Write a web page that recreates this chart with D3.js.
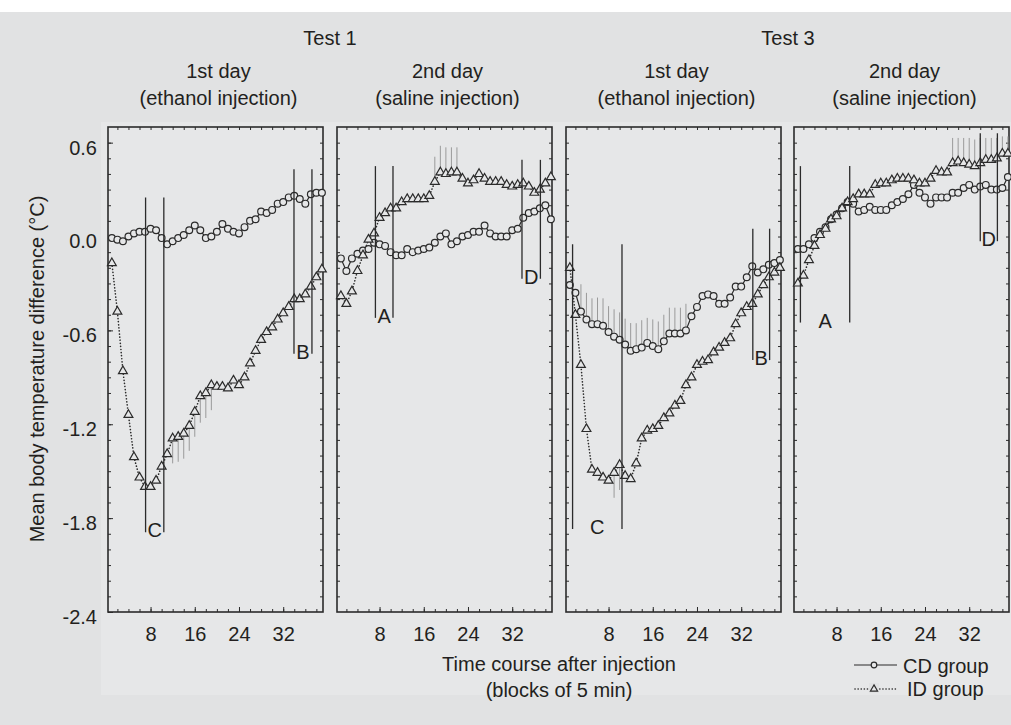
<!DOCTYPE html>
<html>
<head>
<meta charset="utf-8">
<script src="https://cdn.jsdelivr.net/npm/d3@7"></script>
<style>
body { margin: 0; background: #fff; }
svg text { font-family: "Liberation Sans", Arial, Helvetica, sans-serif; fill: #231f20; }
</style>
</head>
<body>
<svg id="chart" width="1011" height="725"></svg>
<script>
// blocks of 5 min after injection
var blocks = d3.range(1, 40);

// Test 1, 1st day (ethanol)
var cd1 = [-0.01,-0.02,-0.03,0.00,0.02,0.03,0.03,0.05,0.04,-0.01,-0.05,-0.03,-0.01,0.01,0.04,0.07,0.04,-0.01,0.00,0.03,0.08,0.05,0.03,0.02,0.06,0.10,0.11,0.16,0.15,0.17,0.21,0.22,0.25,0.26,0.24,0.21,0.27,0.28,0.28];
var id1 = [-0.17,-0.48,-0.86,-1.14,-1.41,-1.54,-1.60,-1.60,-1.56,-1.47,-1.39,-1.29,-1.28,-1.26,-1.21,-1.12,-1.02,-1.00,-0.95,-0.96,-0.96,-0.97,-0.92,-0.95,-0.90,-0.81,-0.73,-0.66,-0.61,-0.58,-0.53,-0.49,-0.45,-0.40,-0.40,-0.37,-0.32,-0.26,-0.21];
// Test 1, 2nd day (saline)
var cd2 = [-0.14,-0.22,-0.14,-0.11,-0.09,-0.08,-0.04,-0.05,-0.06,-0.10,-0.12,-0.12,-0.08,-0.10,-0.09,-0.08,-0.07,-0.04,0.00,0.02,-0.05,-0.03,0.00,0.01,0.03,0.03,0.07,0.02,0.00,0.00,0.00,0.04,0.05,0.12,0.15,0.16,0.18,0.20,0.11];
var id2 = [-0.38,-0.43,-0.35,-0.22,-0.12,-0.02,0.02,0.12,0.15,0.18,0.18,0.22,0.24,0.24,0.24,0.24,0.26,0.35,0.41,0.40,0.41,0.41,0.37,0.34,0.36,0.40,0.37,0.35,0.35,0.35,0.33,0.32,0.33,0.34,0.32,0.28,0.30,0.34,0.38];
// Test 3, 1st day (ethanol)
var cd3 = [-0.31,-0.36,-0.48,-0.53,-0.56,-0.56,-0.57,-0.61,-0.64,-0.66,-0.69,-0.73,-0.72,-0.71,-0.68,-0.70,-0.72,-0.67,-0.62,-0.62,-0.62,-0.60,-0.51,-0.45,-0.38,-0.37,-0.38,-0.43,-0.43,-0.39,-0.32,-0.32,-0.26,-0.19,-0.23,-0.21,-0.18,-0.17,-0.15];
var id3 = [-0.20,-0.50,-0.82,-1.23,-1.49,-1.51,-1.54,-1.56,-1.51,-1.46,-1.53,-1.55,-1.45,-1.29,-1.24,-1.23,-1.21,-1.16,-1.13,-1.08,-1.05,-0.95,-0.90,-0.82,-0.80,-0.79,-0.74,-0.71,-0.68,-0.65,-0.56,-0.49,-0.45,-0.43,-0.37,-0.31,-0.26,-0.23,-0.20];
// Test 3, 2nd day (saline)
var cd4 = [-0.08,-0.08,-0.05,-0.01,0.03,0.06,0.11,0.14,0.18,0.22,0.21,0.16,0.17,0.19,0.17,0.17,0.17,0.20,0.22,0.24,0.27,0.33,0.28,0.25,0.21,0.25,0.25,0.25,0.28,0.28,0.31,0.33,0.30,0.32,0.33,0.30,0.30,0.31,0.38];
var id4 = [-0.30,-0.25,-0.15,-0.06,0.01,0.05,0.11,0.13,0.18,0.22,0.24,0.27,0.27,0.27,0.33,0.34,0.34,0.36,0.37,0.37,0.37,0.36,0.34,0.34,0.37,0.42,0.41,0.41,0.47,0.48,0.47,0.46,0.45,0.47,0.49,0.49,0.50,0.53,0.53];

// SEM bars that show: [block, signed length]
var id1Err = [[12,-0.16],[13,-0.16],[14,-0.16],[15,-0.16],[16,-0.16],[17,-0.17],[18,-0.16],[19,-0.16]];
var id2Err = [[18,0.16],[19,0.17],[20,0.17],[21,0.16],[22,0.16]];
var cd3Err = [[3,0.175],[4,0.17],[5,0.165],[6,0.17],[7,0.175],[8,0.165],[9,0.175],[10,0.175],[11,0.165],[12,0.177],[13,0.166],[14,0.175],[15,0.16],[16,0.17],[17,0.177],[18,0.17],[19,0.165],[20,0.165],[21,0.165],[22,0.17]];
var id3Err = [[9,-0.16],[10,-0.16]];
var id4Err = [[29,0.16],[30,0.15],[31,0.16],[32,0.17],[33,0.17],[34,0.16],[35,0.14],[36,0.14],[37,0.13],[38,0.11],[39,0.11]];

var testTitles = ["Test 1", "Test 3"];
var dayTitles = [["1st day", "(ethanol injection)"], ["2nd day", "(saline injection)"], ["1st day", "(ethanol injection)"], ["2nd day", "(saline injection)"]];
var xTickLabels = [8, 16, 24, 32];
var yTickLabels = [-2.4, -1.8, -1.2, -0.6, 0.0, 0.6];

// comparison intervals: panel, letter, block range, value range
var refLines = [
  {panel: 0, label: "C", t: [7.1, 10.4], top: 0.25, bottom: -1.89},
  {panel: 0, label: "B", t: [33.95, 37.2], top: 0.43, bottom: -0.75},
  {panel: 1, label: "A", t: [7.25, 10.43], top: 0.45, bottom: -0.52},
  {panel: 1, label: "D", t: [33.77, 37.1], top: 0.49, bottom: -0.27},
  {panel: 2, label: "C", t: [1.49, 10.43], top: -0.05, bottom: -1.87},
  {panel: 2, label: "B", t: [34.1, 37.14], top: 0.05, bottom: -0.79},
  {panel: 3, label: "A", t: [1.46, 10.38], top: 0.45, bottom: -0.55},
  {panel: 3, label: "D", t: [34.0, 37.1], top: 0.66, bottom: -0.03}
];

var panels = [
  {cd: cd1, id: id1, cdErr: [], idErr: id1Err},
  {cd: cd2, id: id2, cdErr: [], idErr: id2Err},
  {cd: cd3, id: id3, cdErr: cd3Err, idErr: id3Err},
  {cd: cd4, id: id4, cdErr: [], idErr: id4Err}
];

var panelLeft = [108, 337, 566, 794],
  panelW = 215,
  plotTop = 127,
  plotBottom = 612,
  ink = "#2b2b2b",
  bg = "#e6e7e8";

var svg = d3.select("#chart");

svg.append("rect").attr("x", 0).attr("y", 12).attr("width", 1011).attr("height", 713).attr("fill", "#e1e2e3");
svg.append("rect").attr("x", 101).attr("y", 122).attr("width", 910).attr("height", 573).attr("fill", bg);

var x = d3.scaleLinear().domain([0.3, 39.2]).range([0, panelW]);
var y = d3.scaleLinear().domain([-2.4, 0.7]).range([plotBottom, plotTop]);

var minorX = d3.range(2, 39, 2);
var minorY = d3.range(-23, 7).map(function(d){ return d / 10; });

var cdLine = d3.line().x(function(d, i){ return x(blocks[i]); }).y(function(d){ return y(d); });
var tri = d3.symbol().type(d3.symbolTriangle).size(34);

function noDomain(g){
  g.select(".domain").remove();
  g.selectAll(".tick line").attr("stroke", ink);
}

panels.forEach(function(p, k){
  var g = svg.append("g").attr("transform", "translate(" + panelLeft[k] + ",0)");

  // inward ticks on all four sides
  g.append("g").attr("transform", "translate(0," + plotBottom + ")")
    .call(d3.axisBottom(x).tickValues(minorX).tickSize(-3).tickFormat("")).call(noDomain);
  g.append("g").attr("transform", "translate(0," + plotBottom + ")")
    .call(d3.axisBottom(x).tickValues(xTickLabels).tickSize(-5).tickPadding(15).tickFormat(d3.format("d")))
    .call(noDomain)
    .selectAll("text").attr("font-size", 20).attr("fill", "#231f20");
  g.append("g").attr("transform", "translate(0," + plotTop + ")")
    .call(d3.axisTop(x).tickValues(minorX).tickSize(-3).tickFormat("")).call(noDomain);
  g.append("g").call(d3.axisLeft(y).tickValues(minorY).tickSize(-3).tickFormat("")).call(noDomain);
  g.append("g").attr("transform", "translate(" + panelW + ",0)")
    .call(d3.axisRight(y).tickValues(minorY).tickSize(-3).tickFormat("")).call(noDomain);

  if (k === 0) {
    g.append("g")
      .call(d3.axisLeft(y).tickValues(yTickLabels).tickSize(-5).tickPadding(11)
        .tickFormat(function(d){ return d.toFixed(1); }))
      .call(noDomain)
      .selectAll("text").attr("font-size", 20).attr("dy", "0.57em").attr("fill", "#231f20");
  }

  g.append("rect")
    .attr("x", 0).attr("y", plotTop)
    .attr("width", panelW).attr("height", plotBottom - plotTop)
    .attr("fill", "none").attr("stroke", ink).attr("stroke-width", 1.6);

  // SEM bars
  g.selectAll(".errcd").data(p.cdErr).enter().append("line")
    .attr("x1", function(d){ return x(d[0]); }).attr("x2", function(d){ return x(d[0]); })
    .attr("y1", function(d){ return y(p.cd[d[0] - 1]); })
    .attr("y2", function(d){ return y(p.cd[d[0] - 1] + d[1]); })
    .attr("stroke", "#9a9a9a").attr("stroke-width", 1);
  g.selectAll(".errid").data(p.idErr).enter().append("line")
    .attr("x1", function(d){ return x(d[0]); }).attr("x2", function(d){ return x(d[0]); })
    .attr("y1", function(d){ return y(p.id[d[0] - 1]); })
    .attr("y2", function(d){ return y(p.id[d[0] - 1] + d[1]); })
    .attr("stroke", "#9a9a9a").attr("stroke-width", 1);

  g.append("path").datum(p.cd).attr("d", cdLine)
    .attr("fill", "none").attr("stroke", ink).attr("stroke-width", 1.2);
  g.append("path").datum(p.id).attr("d", cdLine)
    .attr("fill", "none").attr("stroke", ink).attr("stroke-width", 1.6)
    .attr("stroke-linecap", "round").attr("stroke-dasharray", "0.1,3");

  g.selectAll(".cd").data(p.cd).enter().append("circle")
    .attr("cx", function(d, i){ return x(blocks[i]); })
    .attr("cy", function(d){ return y(d); })
    .attr("r", 3.4)
    .attr("fill", bg).attr("stroke", ink).attr("stroke-width", 1.2);
  g.selectAll(".id").data(p.id).enter().append("path")
    .attr("d", tri)
    .attr("transform", function(d, i){ return "translate(" + x(blocks[i]) + "," + y(d) + ")"; })
    .attr("fill", bg).attr("stroke", ink).attr("stroke-width", 1.2);

  // A-D interval lines
  var refs = refLines.filter(function(r){ return r.panel === k; });
  refs.forEach(function(r){
    r.t.forEach(function(t){
      g.append("line")
        .attr("x1", x(t)).attr("x2", x(t))
        .attr("y1", y(r.top)).attr("y2", y(r.bottom))
        .attr("stroke", ink).attr("stroke-width", 1.3);
    });
    g.append("text")
      .attr("x", x((r.t[0] + r.t[1]) / 2)).attr("y", y(r.bottom) + 5)
      .attr("text-anchor", "middle").attr("font-size", 20)
      .text(r.label);
  });

  var title = g.append("text").attr("text-anchor", "middle").attr("font-size", 20);
  title.append("tspan").attr("x", panelW / 2 + 3).attr("y", 78).text(dayTitles[k][0]);
  title.append("tspan").attr("x", panelW / 2 + 3).attr("y", 105).text(dayTitles[k][1]);
});

svg.append("text").attr("x", 330).attr("y", 45).attr("text-anchor", "middle").attr("font-size", 20).text(testTitles[0]);
svg.append("text").attr("x", 788).attr("y", 45).attr("text-anchor", "middle").attr("font-size", 20).text(testTitles[1]);

svg.append("text")
  .attr("transform", "translate(44,369) rotate(-90)")
  .attr("text-anchor", "middle").attr("font-size", 20)
  .text("Mean body temperature difference (\u00b0C)");

var xt = svg.append("text").attr("text-anchor", "middle").attr("font-size", 20);
xt.append("tspan").attr("x", 559).attr("y", 671).text("Time course after injection");
xt.append("tspan").attr("x", 559).attr("y", 697).text("(blocks of 5 min)");

// legend
var lg = svg.append("g");
lg.append("line").attr("x1", 854).attr("x2", 897).attr("y1", 665).attr("y2", 665)
  .attr("stroke", ink).attr("stroke-width", 1.2);
lg.append("circle").attr("cx", 874).attr("cy", 665).attr("r", 2.8)
  .attr("fill", bg).attr("stroke", ink).attr("stroke-width", 1.2);
lg.append("text").attr("x", 903).attr("y", 673).attr("font-size", 20).text("CD group");
lg.append("line").attr("x1", 855).attr("x2", 897).attr("y1", 689).attr("y2", 689)
  .attr("stroke", ink).attr("stroke-width", 1.6).attr("stroke-linecap", "round").attr("stroke-dasharray", "0.1,3");
lg.append("rect").attr("x", 869).attr("y", 683).attr("width", 10).attr("height", 10).attr("fill", "#e1e2e3");
lg.append("path").attr("d", d3.symbol().type(d3.symbolTriangle).size(22))
  .attr("transform", "translate(874,689)")
  .attr("fill", bg).attr("stroke", ink).attr("stroke-width", 1.2);
lg.append("text").attr("x", 907).attr("y", 696).attr("font-size", 20).text("ID group");
</script>
</body>
</html>
